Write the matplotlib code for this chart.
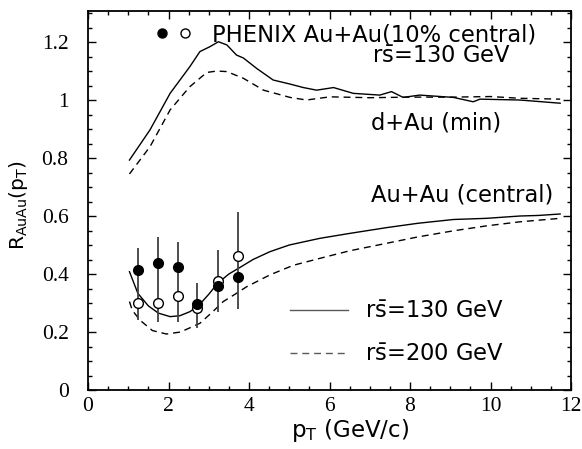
import matplotlib
matplotlib.use("Agg")
import matplotlib.pyplot as plt
from matplotlib.ticker import MultipleLocator

# ---- data ----
auau130_pt = [1.03, 1.24, 1.5, 1.75, 2.04, 2.28, 2.53, 2.74, 3.0, 3.22, 3.5, 3.78, 4.1, 4.52,
              5.0, 5.76, 6.5, 7.42, 8.2, 9.08, 9.9, 10.73, 11.2, 11.73]
auau130_R = [0.408, 0.333, 0.29, 0.265, 0.253, 0.256, 0.27, 0.29, 0.33, 0.368, 0.40, 0.423,
             0.45, 0.477, 0.50, 0.523, 0.54, 0.56, 0.575, 0.588, 0.592, 0.60, 0.602, 0.607]

auau200_pt = [1.03, 1.1, 1.29, 1.6, 1.95, 2.3, 2.78, 3.1, 3.36, 3.65, 3.94, 4.52, 5.1, 5.76,
              6.5, 7.42, 8.2, 9.08, 9.9, 10.73, 11.73]
auau200_R = [0.305, 0.275, 0.241, 0.205, 0.193, 0.20, 0.23, 0.27, 0.305, 0.33, 0.356, 0.397,
             0.43, 0.454, 0.48, 0.506, 0.528, 0.549, 0.566, 0.58, 0.592]

dau130_pt = [1.03, 1.54, 2.04, 2.53, 2.78, 3.03, 3.24, 3.45, 3.69, 3.86, 4.19, 4.6, 5.02, 5.35,
             5.68, 6.1, 6.59, 7.25, 7.54, 7.83, 8.24, 9.08, 9.57, 9.74, 10.73, 11.73]
dau130_R = [0.793, 0.897, 1.023, 1.115, 1.167, 1.184, 1.201, 1.19, 1.155, 1.145, 1.109, 1.069,
            1.055, 1.043, 1.034, 1.043, 1.023, 1.017, 1.029, 1.009, 1.017, 1.009, 0.994, 1.003,
            1.0, 0.989]

dau200_pt = [1.03, 1.54, 2.04, 2.53, 2.95, 3.2, 3.45, 3.86, 4.36, 5.02, 5.43, 6.01, 7.0, 8.0,
             9.08, 10.0, 10.73, 11.73]
dau200_R = [0.745, 0.839, 0.966, 1.046, 1.095, 1.1, 1.098, 1.075, 1.034, 1.009, 1.0, 1.011,
            1.008, 1.01, 1.01, 1.012, 1.006, 1.003]

phenix_pt = [1.25, 1.75, 2.24, 2.72, 3.22, 3.73]
phenix_filled = [0.414, 0.437, 0.423, 0.295, 0.359, 0.39]
phenix_open = [0.301, 0.301, 0.324, 0.284, 0.377, 0.462]
err_lo = [0.24, 0.236, 0.236, 0.213, 0.27, 0.278]
err_hi = [0.49, 0.529, 0.511, 0.37, 0.483, 0.615]

xticks = [0, 2, 4, 6, 8, 10, 12]
yticks = [0, 0.2, 0.4, 0.6, 0.8, 1.0, 1.2]
ytick_labels = ["0", "0.2", "0.4", "0.6", "0.8", "1", "1.2"]

# ---- style ----
plt.rcParams['font.family'] = ['DejaVu Sans']
plt.rcParams['mathtext.fontset'] = 'dejavusans'

W, H = 582, 449
fig = plt.figure(figsize=(W / 100, H / 100), dpi=100)
ax = fig.add_axes([88 / W, (H - 390) / H, (571 - 88) / W, (390 - 11) / H])


def fx(px):
    return px / W


def fy(py):
    return 1 - py / H


dash = (0, (5, 3.5))
ax.plot(auau130_pt, auau130_R, color='black', lw=1.0)
ax.plot(auau200_pt, auau200_R, color='black', lw=1.0, linestyle=dash)
ax.plot(dau130_pt, dau130_R, color='black', lw=1.0)
ax.plot(dau200_pt, dau200_R, color='black', lw=1.0, linestyle=dash)

ax.vlines(phenix_pt, err_lo, err_hi, color='0.25', lw=1.3)
ax.plot(phenix_pt, phenix_open, 'o', mfc='white', mec='black', ms=7, mew=1.0)
ax.plot(phenix_pt, phenix_filled, 'o', mfc='black', mec='black', ms=7)

ax.set_xlim(0, 12)
ax.set_ylim(0, 1.307)
ax.set_xticks(xticks)
ax.set_yticks(yticks)
ax.set_yticklabels(ytick_labels)
ax.xaxis.set_minor_locator(MultipleLocator(0.5))
ax.yaxis.set_minor_locator(MultipleLocator(0.05))
ax.tick_params(which='both', direction='in', top=True, right=True, width=1.0)
ax.tick_params(which='major', length=5.5)
ax.tick_params(which='minor', length=3)
ax.tick_params(axis='x', which='major', pad=5)
ax.tick_params(axis='y', which='major', pad=14)
for lab in ax.get_xticklabels() + ax.get_yticklabels():
    lab.set_family(['Liberation Serif', 'DejaVu Serif'])
    lab.set_fontsize(15.5)
for s in ax.spines.values():
    s.set_linewidth(1.3)

fs = 16.3
# PHENIX legend at top
ax.plot([fx(161.7)], [fy(33.3)], 'o', mfc='black', mec='black', ms=6.5,
        transform=fig.transFigure, clip_on=False)
ax.plot([fx(185)], [fy(33.3)], 'o', mfc='white', mec='black', ms=6.5, mew=1.0,
        transform=fig.transFigure, clip_on=False)
fig.text(fx(212), fy(41), "PHENIX Au+Au(10% central)", fontsize=fs, va='baseline', ha='left')
fig.text(fx(372), fy(63.3), r"r$\bar{\rm s}$=130 GeV", fontsize=fs, va='baseline', ha='left')
fig.text(fx(370.7), fy(129.3), "d+Au (min)", fontsize=fs, va='baseline', ha='left')
fig.text(fx(370.7), fy(201.7), "Au+Au (central)", fontsize=fs, va='baseline', ha='left')

# line legend
ax.plot([fx(290), fx(348)], [fy(310), fy(310)], color='0.35', lw=1.0,
        transform=fig.transFigure, clip_on=False)
ax.plot([fx(290), fx(348)], [fy(352.7), fy(352.7)], color='0.35', lw=1.0, linestyle=dash,
        transform=fig.transFigure, clip_on=False)
fig.text(fx(365), fy(318.3), r"r$\bar{\rm s}$=130 GeV", fontsize=fs, va='baseline', ha='left')
fig.text(fx(365), fy(361), r"r$\bar{\rm s}$=200 GeV", fontsize=fs, va='baseline', ha='left')

fig.text(fx(350), fy(437), r"p$_{\rm T}$ (GeV/c)", fontsize=16.5, va='baseline', ha='center')
fig.text(fx(19), fy(205), r"R$_{\rm AuAu}$(p$_{\rm T}$)", fontsize=14.5, va='center',
         ha='center', rotation=90)

fig.savefig("out.png", dpi=100)
